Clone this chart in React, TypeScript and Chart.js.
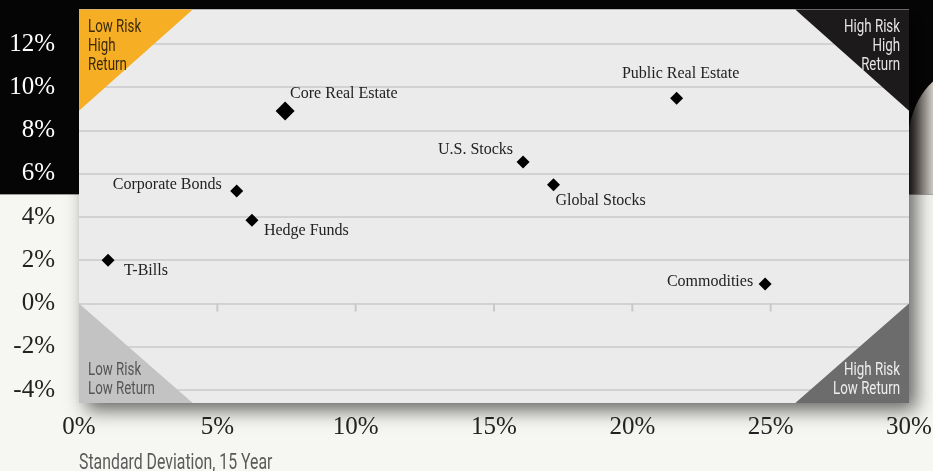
import React, { useEffect, useRef } from "react";
import { Chart, registerables } from "chart.js";

Chart.register(...registerables);

// ---- data ----
const assets = [
  "T-Bills",
  "Hedge Funds",
  "Corporate Bonds",
  "Core Real Estate",
  "U.S. Stocks",
  "Global Stocks",
  "Public Real Estate",
  "Commodities",
];
const risk = [1.05, 6.25, 5.7, 7.45, 16.05, 17.15, 21.6, 24.8];
const returns = [2.0, 3.85, 5.2, 8.9, 6.55, 5.5, 9.5, 0.9];
const xTicks = [0, 5, 10, 15, 20, 25, 30];
const yTicks = [-4, -2, 0, 2, 4, 6, 8, 10, 12];
const xTitle = "Standard Deviation, 15 Year";
const quadrantTexts = {
  topLeft: ["Low Risk", "High", "Return"],
  topRight: ["High Risk", "High", "Return"],
  bottomLeft: ["Low Risk", "Low Return"],
  bottomRight: ["High Risk", "Low Return"],
};

// ---- styling (not data) ----
const pointRadii = [6.5, 6.5, 6.5, 9.5, 6.5, 6.5, 6.5, 6.5];
const labelPlacement: { align: CanvasTextAlign; dx: number; dy: number }[] = [
  { align: "left", dx: 16, dy: 10 },
  { align: "left", dx: 12, dy: 10 },
  { align: "right", dx: -15, dy: -6 },
  { align: "left", dx: 5, dy: -17 },
  { align: "right", dx: -10, dy: -12 },
  { align: "left", dx: 2, dy: 16 },
  { align: "center", dx: 4, dy: -24 },
  { align: "right", dx: -12, dy: -2 },
];
const SERIF = "'Liberation Serif', 'DejaVu Serif', serif";
const COND = "Roboto, 'Noto Sans', sans-serif";
const SQUEEZE = 0.72;

function condensedText(
  ctx: CanvasRenderingContext2D,
  text: string,
  x: number,
  y: number,
  align: "left" | "right",
  size: number,
  color: string
) {
  ctx.save();
  ctx.font = `400 ${size}px ${COND}`;
  ctx.fillStyle = color;
  ctx.textBaseline = "alphabetic";
  ctx.textAlign = align;
  ctx.translate(x, y);
  ctx.scale(SQUEEZE, 1);
  ctx.fillText(text, 0, 0);
  ctx.restore();
}

const backgroundPlugin = {
  id: "bg",
  beforeDraw(chart: any) {
    const { ctx, chartArea: a, width, height } = chart;
    ctx.save();
    ctx.fillStyle = "#f6f6f2";
    ctx.fillRect(0, 0, width, height);
    const bandBottom = chart.scales.y.getPixelForValue(5.05);
    ctx.fillStyle = "#050505";
    ctx.fillRect(0, 0, width, bandBottom);
    // grey silhouette to the right
    const g = ctx.createLinearGradient(a.right, 0, width, 0);
    g.addColorStop(0, "#2e2a28");
    g.addColorStop(0.5, "#8a8580");
    g.addColorStop(1, "#d2cdc7");
    ctx.fillStyle = g;
    ctx.beginPath();
    ctx.moveTo(a.right, a.top + 118);
    ctx.quadraticCurveTo(a.right + 6, a.top + 88, width, a.top + 72);
    ctx.lineTo(width, bandBottom);
    ctx.lineTo(a.right, bandBottom);
    ctx.closePath();
    ctx.fill();
    // plot panel with shadow
    ctx.shadowColor = "rgba(0,0,0,0.6)";
    ctx.shadowBlur = 18;
    ctx.shadowOffsetX = 7;
    ctx.shadowOffsetY = 7;
    ctx.fillStyle = "#ebebeb";
    ctx.fillRect(a.left, a.top, a.right - a.left, a.bottom - a.top);
    ctx.restore();
    ctx.save();
    ctx.strokeStyle = "#f6f6f6";
    ctx.lineWidth = 1;
    ctx.beginPath();
    ctx.moveTo(a.left, a.top + 0.5);
    ctx.lineTo(a.right, a.top + 0.5);
    ctx.stroke();
    ctx.restore();
  },
};

const quadrantPlugin = {
  id: "quadrants",
  beforeDatasetsDraw(chart: any) {
    const { ctx, chartArea: a, scales } = chart;
    const w = (a.right - a.left) * 0.137;
    const h = (a.bottom - a.top) * 0.257;
    const y0 = scales.y.getPixelForValue(0);
    const hb = a.bottom - y0;
    ctx.save();
    // zero-line tick marks
    ctx.strokeStyle = "#c9c9c9";
    ctx.lineWidth = 2;
    xTicks.forEach((v) => {
      if (v === xTicks[0] || v === xTicks[xTicks.length - 1]) return;
      const x = scales.x.getPixelForValue(v);
      ctx.beginPath();
      ctx.moveTo(x, y0);
      ctx.lineTo(x, y0 + 8);
      ctx.stroke();
    });
    const tri = (pts: number[][], color: string) => {
      ctx.fillStyle = color;
      ctx.beginPath();
      ctx.moveTo(pts[0][0], pts[0][1]);
      ctx.lineTo(pts[1][0], pts[1][1]);
      ctx.lineTo(pts[2][0], pts[2][1]);
      ctx.closePath();
      ctx.fill();
    };
    tri([[a.left, a.top], [a.left + w, a.top], [a.left, a.top + h]], "#f6ae24");
    tri([[a.right, a.top], [a.right - w, a.top], [a.right, a.top + h]], "#1c1a1a");
    tri([[a.left, a.bottom], [a.left + w, a.bottom], [a.left, a.bottom - hb]], "#c3c3c3");
    tri([[a.right, a.bottom], [a.right - w, a.bottom], [a.right, a.bottom - hb]], "#6c6c6c");
    ctx.restore();
    const lh = 19.3;
    quadrantTexts.topLeft.forEach((t, i) =>
      condensedText(ctx, t, a.left + 9, a.top + 22 + i * lh, "left", 18.5, "#3a2a0c")
    );
    quadrantTexts.topRight.forEach((t, i) =>
      condensedText(ctx, t, a.right - 9, a.top + 22 + i * lh, "right", 18.5, "#e4e4e4")
    );
    quadrantTexts.bottomLeft.forEach((t, i) =>
      condensedText(ctx, t, a.left + 9, a.bottom - 28 + i * 18.5, "left", 18.5, "#555555")
    );
    quadrantTexts.bottomRight.forEach((t, i) =>
      condensedText(ctx, t, a.right - 9, a.bottom - 28 + i * 18.5, "right", 18.5, "#eeeeee")
    );
  },
};

const labelPlugin = {
  id: "pointLabels",
  afterDatasetsDraw(chart: any) {
    const { ctx } = chart;
    const meta = chart.getDatasetMeta(0);
    ctx.save();
    ctx.font = `16px ${SERIF}`;
    ctx.fillStyle = "#222222";
    ctx.textBaseline = "middle";
    meta.data.forEach((el: any, i: number) => {
      const p = labelPlacement[i];
      ctx.textAlign = p.align;
      ctx.fillText(assets[i], el.x + p.dx, el.y + p.dy);
    });
    ctx.restore();
  },
  afterDraw(chart: any) {
    const { ctx, chartArea: a } = chart;
    condensedText(ctx, xTitle, a.left, a.bottom + 66, "left", 22, "#5a5a5a");
  },
};

export default function App() {
  const ref = useRef<HTMLCanvasElement>(null);
  useEffect(() => {
    if (!ref.current) return;
    const chart = new Chart(ref.current, {
      type: "scatter",
      data: {
        datasets: [
          {
            data: risk.map((x, i) => ({ x, y: returns[i] })),
            pointStyle: "rectRot",
            pointRadius: pointRadii,
            pointHoverRadius: pointRadii,
            backgroundColor: "#000000",
            borderColor: "#000000",
            borderWidth: 0,
          },
        ],
      },
      options: {
        animation: false,
        responsive: false,
        maintainAspectRatio: false,
        layout: { padding: { top: 6, right: 24, left: 0, bottom: 0 } },
        plugins: { legend: { display: false }, tooltip: { enabled: false } },
        scales: {
          x: {
            type: "linear",
            min: 0,
            max: 30,
            afterBuildTicks: (s: any) => {
              s.ticks = xTicks.map((v) => ({ value: v }));
            },
            afterFit: (s: any) => {
              s.height = 68;
              s.paddingLeft = 0;
              s.paddingRight = 0;
            },
            grid: { display: false },
            border: { display: false },
            ticks: {
              padding: 1,
              color: "#222222",
              font: { family: SERIF, size: 25 },
              maxRotation: 0,
              autoSkip: false,
              callback: (v: any) => `${v}%`,
            },
          },
          y: {
            type: "linear",
            min: -4.6,
            max: 13.6,
            afterBuildTicks: (s: any) => {
              s.ticks = yTicks.map((v) => ({ value: v }));
            },
            afterFit: (s: any) => {
              s.width = 79;
              s.paddingTop = 0;
              s.paddingBottom = 0;
            },
            grid: { color: "#d2d2d2", lineWidth: 2, drawTicks: false },
            border: { display: false },
            ticks: {
              padding: 24,
              color: (c: any) => (c.tick && c.tick.value >= 6 ? "#ffffff" : "#222222"),
              font: { family: SERIF, size: 25 },
              callback: (v: any) => `${v}%`,
            },
          },
        },
      },
      plugins: [backgroundPlugin, quadrantPlugin, labelPlugin],
    } as any);
    return () => chart.destroy();
  }, []);
  return (
    <div style={{ position: "fixed", left: 0, top: 0, width: 933, height: 471 }}>
      <canvas ref={ref} width={933} height={471} style={{ display: "block" }} />
    </div>
  );
}
